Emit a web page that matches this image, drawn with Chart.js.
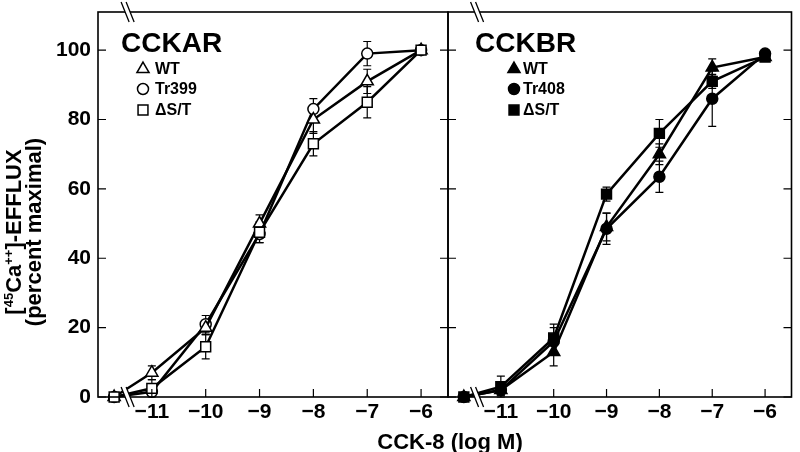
<!doctype html>
<html>
  <head>
    <title>CCK-8 calcium efflux</title>
    <style>
      body { margin: 0; background: #fff; }
      #wrap { position: relative; width: 800px; height: 452px; }
      canvas { position: absolute; left: 0; top: 0; }
    </style>
  </head>
  <body>
    <div id="wrap">
      <canvas id="chartA" width="800" height="452"></canvas>
      <canvas id="chartB" width="800" height="452"></canvas>
    </div>
  </body>
  <script src="https://cdn.jsdelivr.net/npm/chart.js"></script>
  <script>
    // log M of CCK-8; first point is the "no agonist" point left of the axis break
    const doses = [-11.7, -11, -10, -9, -8, -7, -6];
    const xTicks = [-11, -10, -9, -8, -7, -6];
    const yTicks = [0, 20, 40, 60, 80, 100];

    // CCKAR panel (open symbols)
    const aWT = [0, 7, 20, 50, 80, 91, 100];
    const aWTErr = [0, 2, 2, 2.5, 4, 3.5, 1];
    const aTr399 = [0, 1.5, 21, 47, 83, 99, 100];
    const aTr399Err = [0, 1, 2.5, 2.5, 3, 3.5, 1];
    const aDST = [0, 2.5, 14.5, 47.5, 73, 85, 100];
    const aDSTErr = [0, 2.5, 3.5, 3, 3.5, 4.5, 1];

    // CCKBR panel (filled symbols)
    const bWT = [0, 2, 13, 49, 70, 95, 98];
    const bWTErr = [0, 1.5, 4, 4, 3, 2.5, 1];
    const bTr408 = [0, 2, 16, 48.5, 63.5, 86, 99];
    const bTr408Err = [0, 1.5, 4, 4.5, 4.5, 8, 1];
    const bDST = [0, 3, 17, 58.5, 76, 91, 98];
    const bDSTErr = [0, 3, 4, 2, 4, 2, 1];

    const FONT = '"Liberation Sans", Arial, Helvetica, sans-serif';

    function pts(vals) {
      return vals.map((v, i) => ({ x: doses[i], y: v }));
    }

    function series(label, vals, errs, style, radius, filled) {
      return {
        label: label,
        data: pts(vals),
        errors: errs,
        borderColor: '#000',
        borderWidth: 2.5,
        pointStyle: style,
        pointRadius: radius,
        pointHoverRadius: radius,
        pointBackgroundColor: filled ? '#000' : '#fff',
        pointBorderColor: '#000',
        pointBorderWidth: 1.5,
        tension: 0,
        fill: false,
        clip: false
      };
    }

    const panelPlugin = {
      id: 'panel',
      beforeDatasetsDraw(chart) {
        const ctx = chart.ctx;
        const xs = chart.scales.x, ys = chart.scales.y;
        ctx.save();
        ctx.strokeStyle = '#000';
        ctx.lineWidth = 1.2;
        chart.data.datasets.forEach(ds => {
          ds.data.forEach((p, i) => {
            const e = ds.errors[i];
            if (!e) return;
            const px = xs.getPixelForValue(p.x);
            const top = ys.getPixelForValue(p.y + e);
            const bot = ys.getPixelForValue(p.y - e);
            ctx.beginPath();
            ctx.moveTo(px, top); ctx.lineTo(px, bot);
            ctx.moveTo(px - 4, top); ctx.lineTo(px + 4, top);
            ctx.moveTo(px - 4, bot); ctx.lineTo(px + 4, bot);
            ctx.stroke();
          });
        });
        ctx.restore();
      },
      afterDraw(chart, args, opts) {
        const ctx = chart.ctx;
        const a = chart.chartArea;
        const xs = chart.scales.x, ys = chart.scales.y;
        ctx.save();

        // frame
        ctx.strokeStyle = '#000';
        ctx.lineWidth = 1.6;
        ctx.strokeRect(a.left, a.top, a.right - a.left, a.bottom - a.top);

        // inward tick marks
        ctx.lineWidth = 1.2;
        ctx.beginPath();
        yTicks.forEach(v => {
          const py = ys.getPixelForValue(v);
          ctx.moveTo(a.left, py); ctx.lineTo(a.left + 8, py);
          ctx.moveTo(a.right, py); ctx.lineTo(a.right - 8, py);
        });
        xTicks.forEach(v => {
          const px = xs.getPixelForValue(v);
          ctx.moveTo(px, a.bottom); ctx.lineTo(px, a.bottom - 8);
        });
        ctx.stroke();

        // axis break marks
        const bx = xs.getPixelForValue(-11.45);
        [a.top, a.bottom].forEach(by => {
          ctx.fillStyle = '#fff';
          ctx.beginPath();
          ctx.moveTo(bx - 6.5, by - 10); ctx.lineTo(bx - 1.5, by - 10);
          ctx.lineTo(bx + 6.5, by + 10); ctx.lineTo(bx + 1.5, by + 10);
          ctx.closePath();
          ctx.fill();
          ctx.lineWidth = 1.3;
          ctx.beginPath();
          ctx.moveTo(bx - 6.5, by - 10); ctx.lineTo(bx + 1.5, by + 10);
          ctx.moveTo(bx - 1.5, by - 10); ctx.lineTo(bx + 6.5, by + 10);
          ctx.stroke();
        });

        // panel title
        ctx.fillStyle = '#000';
        ctx.textBaseline = 'alphabetic';
        ctx.textAlign = 'left';
        ctx.font = 'bold 28px ' + FONT;
        ctx.fillText(opts.title, opts.titleX, 52);

        // legend
        const rows = [69, 89, 110];
        chart.data.datasets.forEach((ds, i) => {
          const y = rows[opts.legendOrder[i]];
          ctx.fillStyle = ds.pointBackgroundColor;
          ctx.strokeStyle = '#000';
          ctx.lineWidth = 1.5;
          Chart.helpers.drawPoint(ctx, {
            pointStyle: ds.pointStyle, radius: ds.pointRadius, rotation: 0, borderWidth: 1.5
          }, opts.symX, y);
          ctx.fillStyle = '#000';
          ctx.font = 'bold 16px ' + FONT;
          ctx.textBaseline = 'middle';
          ctx.fillText(ds.label, opts.textX, y + 1);
        });

        if (opts.axisTitles) {
          // x title spanning both panels
          ctx.textAlign = 'center';
          ctx.textBaseline = 'alphabetic';
          ctx.font = 'bold 22px ' + FONT;
          ctx.fillText('CCK-8 (log M)', 450, 449);

          // y title with superscripts
          ctx.translate(0, 232);
          ctx.rotate(-Math.PI / 2);
          const big = 'bold 22px ' + FONT, small = 'bold 13px ' + FONT;
          const parts = [['[', big, 0], ['45', small, -8], ['Ca', big, 0], ['++', small, -8], [']-EFFLUX', big, 0]];
          let total = 0;
          parts.forEach(p => { ctx.font = p[1]; total += ctx.measureText(p[0]).width; });
          let x = -total / 2;
          ctx.textAlign = 'left';
          parts.forEach(p => {
            ctx.font = p[1];
            ctx.fillText(p[0], x, 21 + p[2]);
            x += ctx.measureText(p[0]).width;
          });
          ctx.font = big;
          ctx.textAlign = 'center';
          ctx.fillText('(percent maximal)', 0, 41);
        }
        ctx.restore();
      }
    };

    function xScale() {
      return {
        type: 'linear',
        min: -12,
        max: -5.5,
        afterBuildTicks: s => { s.ticks = xTicks.map(v => ({ value: v })); },
        afterFit: s => { s.height = 55; s.paddingLeft = 0; s.paddingRight = 0; },
        ticks: {
          callback: v => '\u2212' + Math.abs(v),
          color: '#000',
          font: { family: FONT, size: 21, weight: 'bold' },
          padding: 3,
          maxRotation: 0,
          autoSkip: false
        },
        grid: { display: false, drawTicks: false },
        border: { display: false }
      };
    }

    function makeChart(id, datasets, showY, padding, panel) {
      return new Chart(document.getElementById(id), {
        type: 'line',
        data: { datasets: datasets },
        options: {
          responsive: false,
          animation: false,
          devicePixelRatio: 1,
          layout: { padding: padding },
          plugins: { legend: { display: false }, tooltip: { enabled: false }, panel: panel },
          scales: {
            x: xScale(),
            y: {
              type: 'linear',
              display: showY,
              min: 0,
              max: 111,
              afterBuildTicks: s => { s.ticks = yTicks.map(v => ({ value: v })); },
              afterFit: s => {
                if (showY) s.width = 98;
                s.paddingTop = 0;
                s.paddingBottom = 0;
              },
              ticks: {
                color: '#000',
                font: { family: FONT, size: 21, weight: 'bold' },
                padding: 7
              },
              grid: { display: false, drawTicks: false },
              border: { display: false }
            }
          }
        },
        plugins: [panelPlugin]
      });
    }

    makeChart('chartA', [
      series('\u0394S/T', aDST, aDSTErr, 'rect', 7, false),
      series('WT', aWT, aWTErr, 'triangle', 7, false),
      series('Tr399', aTr399, aTr399Err, 'circle', 5.5, false)
    ], true, { left: 0, right: 352, top: 12, bottom: 0 },
      { title: 'CCKAR', titleX: 121, symX: 143, textX: 155, legendOrder: [2, 0, 1], axisTitles: true });

    makeChart('chartB', [
      series('\u0394S/T', bDST, bDSTErr, 'rect', 7, true),
      series('WT', bWT, bWTErr, 'triangle', 7, true),
      series('Tr408', bTr408, bTr408Err, 'circle', 5.5, true)
    ], false, { left: 448, right: 2, top: 12, bottom: 0 },
      { title: 'CCKBR', titleX: 475, symX: 514, textX: 523, legendOrder: [2, 0, 1], axisTitles: false });
  </script>
</html>
